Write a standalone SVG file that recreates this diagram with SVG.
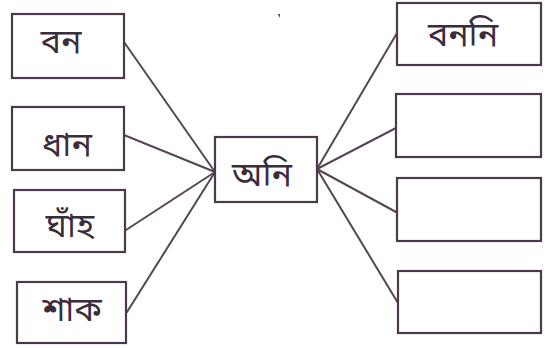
<svg xmlns="http://www.w3.org/2000/svg" width="558" height="348" viewBox="0 0 558 348">
<style>
.box{fill:#ffffff;stroke:#4a3a4a;stroke-width:2.2}
.lbl{font-family:"Noto Sans Bengali","Noto Sans","Noto Serif Bengali",sans-serif;font-size:34px;fill:#3a2c3a;text-anchor:middle}
.conn line{stroke:#554555;stroke-width:2;stroke-linecap:round}
</style>
<rect width="558" height="348" fill="#ffffff"/>
<g class="conn" id="connectors">
<line x1="124" y1="42" x2="215" y2="172"/>
<line x1="124" y1="135" x2="215" y2="172"/>
<line x1="126" y1="230" x2="215" y2="172"/>
<line x1="127" y1="312" x2="215" y2="172"/>
<line x1="317" y1="169" x2="397" y2="33"/>
<line x1="317" y1="169" x2="396" y2="128"/>
<line x1="317" y1="169" x2="396" y2="212"/>
<line x1="317" y1="169" x2="398" y2="303"/>
</g>
<g id="n-bon"><rect class="box" x="12" y="14" width="112" height="64"/><text class="lbl" x="61" y="53">বন</text></g>
<g id="n-dhan"><rect class="box" x="12" y="107" width="112" height="63"/><text class="lbl" x="67" y="156">ধান</text></g>
<g id="n-ghanh"><rect class="box" x="14" y="190" width="111" height="62"/><text class="lbl" x="70" y="237">ঘাঁহ</text></g>
<g id="n-shak"><rect class="box" x="17" y="282" width="109" height="61"/><text class="lbl" x="72" y="321">শাক</text></g>
<g id="n-oni"><rect class="box" x="215" y="137" width="102" height="65"/><text class="lbl" x="262" y="186">অনি</text></g>
<g id="n-bononi"><rect class="box" x="397" y="3" width="144" height="62"/><text class="lbl" x="463" y="46">বননি</text></g>
<g id="n-r2"><rect class="box" x="396" y="94" width="145" height="63"/></g>
<g id="n-r3"><rect class="box" x="397" y="178" width="144" height="63"/></g>
<g id="n-r4"><rect class="box" x="398" y="271" width="143" height="62"/></g>
<path d="M278 14 L280 14 L279.5 18 Z" fill="#3a2c3a"/>
</svg>
